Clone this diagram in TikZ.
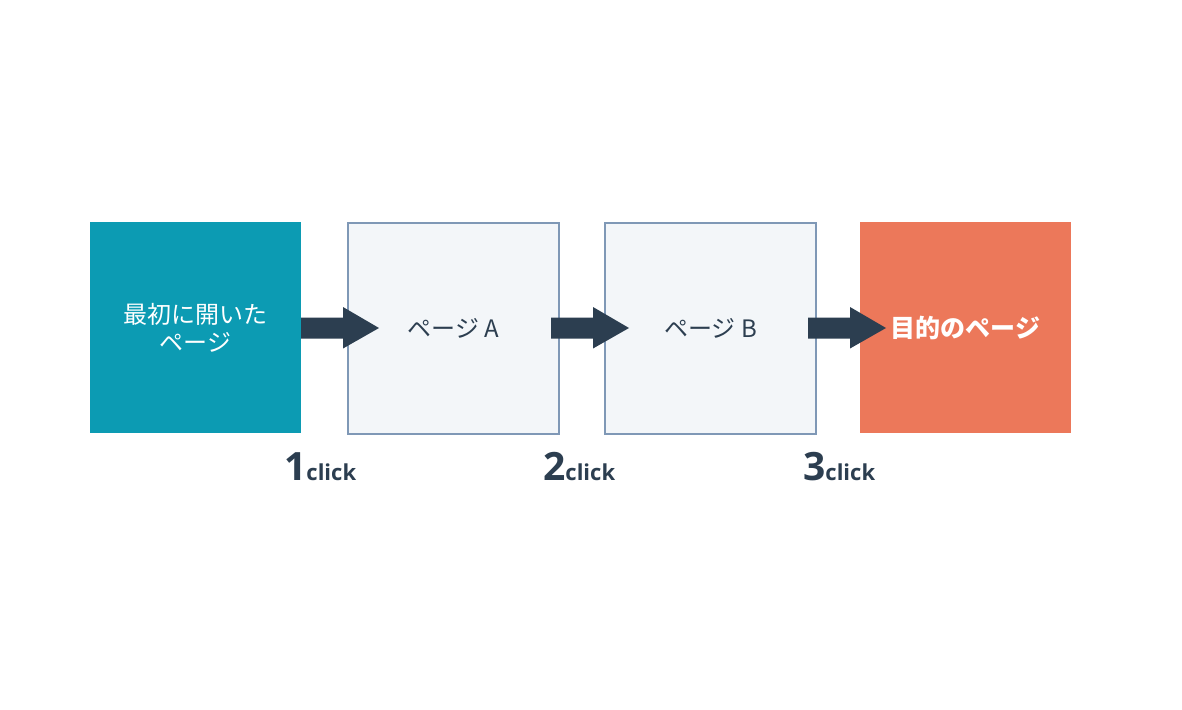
\documentclass[tikz,border=0pt]{standalone}
\usepackage{fontspec}
\setmainfont{Open Sans}
\newfontfamily\jp{Noto Sans CJK JP}
\newfontfamily\jpb[BoldFont={Noto Sans CJK JP Bold}]{Noto Sans CJK JP}
\definecolor{teal}{HTML}{0C9BB3}
\definecolor{pagefill}{HTML}{F3F6F9}
\definecolor{pageline}{HTML}{7F98B6}
\definecolor{goal}{HTML}{EC785A}
\definecolor{navy}{HTML}{2C3E50}
\tikzset{
  box/.style={minimum width=211pt, minimum height=211pt, inner sep=0pt, anchor=north west},
  pagebox/.style={box, fill=pagefill, draw=pageline, line width=2pt},
  bigarrow/.style={fill=navy, draw=none},
  clicklbl/.style={text=navy, font=\bfseries, anchor=base west, inner sep=0pt}
}
\begin{document}
\begin{tikzpicture}[x=1pt,y=-1pt]
\useasboundingbox[fill=white] (0,0) rectangle (1182,709);
\node[box, fill=teal, text=white, align=center, font={\jp\fontsize{24}{28}\selectfont}] (start) at (90,222) {最初に開いた\\ページ};
\node[pagebox, text=navy, font={\jp\fontsize{24}{28}\selectfont}] (pa) at (347,222) {ページ A};
\node[pagebox, text=navy, font={\jp\fontsize{24}{28}\selectfont}] (pb) at (604,222) {ページ B};
\node[box, fill=goal, text=white, font={\jp\bfseries\fontsize{25}{28}\selectfont}] (goal) at (860,222) {目的のページ};
% arrows
\foreach \s/\t [count=\i] in {301/379, 551/629, 808/886}{
  \coordinate (as\i) at (\s,328);
  \fill[bigarrow] (as\i) ++(0,-10.5) -- ++(42,0) -- ++(0,-10.5) -- (\t,328) -- ++(-36,20.5) -- ++(0,-10) -- ++(-42,0) -- cycle;
}
\node[clicklbl] (c1) at (284,480) {\fontsize{39}{39}\selectfont 1\fontsize{22}{22}\selectfont click};
\node[clicklbl] (c2) at (543,480) {\fontsize{39}{39}\selectfont 2\fontsize{22}{22}\selectfont click};
\node[clicklbl] (c3) at (803,480) {\fontsize{39}{39}\selectfont 3\fontsize{22}{22}\selectfont click};
\end{tikzpicture}
\end{document}
